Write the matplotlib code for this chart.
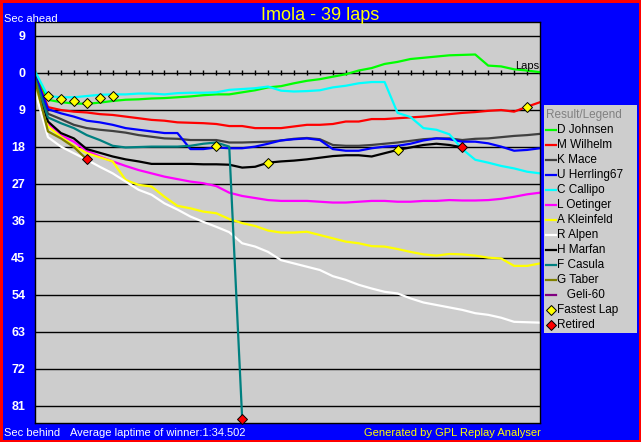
import matplotlib
matplotlib.use('Agg')
import matplotlib.pyplot as plt
from matplotlib.lines import Line2D
from matplotlib.patches import Rectangle

plt.rcParams['font.family'] = ['Liberation Sans', 'DejaVu Sans']

# ---------------- data ----------------
laps = list(range(0, 40))

drivers = ['D Johnsen', 'M Wilhelm', 'K Mace', 'U Herrling67', 'C Callipo', 'L Oetinger',
           'A Kleinfeld', 'R Alpen', 'H Marfan', 'F Casula', 'G Taber', '   Geli-60']
colors = ['#00FF00', '#FF0000', '#404040', '#0000FF', '#00FFFF', '#FF00FF',
          '#FFFF00', '#FFFFFF', '#000000', '#008080', '#808000', '#800080']

johnsen = [0.1, 6.6, 7.2, 7.5, 7.6, 7.3, 6.9, 6.6, 6.5, 6.3, 6.2, 6.0, 5.8, 5.5, 5.3, 5.3, 4.8, 4.3, 3.6, 3.3,
           2.6, 2.0, 1.6, 1.0, 0.4, -0.5, -1.1, -2.1, -2.6, -3.3, -3.6, -3.9, -4.2, -4.3, -4.4, -1.7, -1.5, -0.8, -0.5, -0.1]
wilhelm = [0.4, 8.4, 9.1, 9.5, 9.7, 10.1, 10.3, 10.7, 11.1, 11.5, 11.7, 12.1, 12.2, 12.3, 12.5, 13.0, 13.0, 13.5, 13.5, 13.5,
           13.1, 12.7, 12.7, 12.5, 11.9, 11.9, 11.3, 11.3, 11.1, 10.9, 10.7, 10.4, 10.1, 9.8, 9.6, 9.3, 9.1, 9.5, 8.3, 7.2]
mace = [1.1, 10.0, 11.3, 12.7, 13.5, 13.9, 14.2, 14.6, 15.2, 15.6, 16.0, 16.1, 16.4, 16.4, 16.4, 17.0, 17.0, 16.9, 16.8, 16.5,
        16.1, 15.9, 16.2, 17.6, 17.8, 17.8, 17.6, 17.3, 17.0, 16.6, 16.2, 16.0, 16.0, 16.4, 16.1, 16.0, 15.7, 15.4, 15.2, 14.9]
herrling = [0.6, 8.9, 9.9, 10.7, 11.7, 12.1, 12.7, 13.5, 13.9, 14.3, 14.7, 14.7, 18.6, 18.6, 18.2, 18.4, 18.4, 18.0, 17.3, 16.5,
            16.2, 16.0, 16.4, 18.6, 19.0, 19.0, 18.4, 18.0, 17.8, 17.3, 16.5, 16.0, 16.2, 16.8, 16.8, 17.2, 18.0, 19.0, 18.8, 18.4]
callipo = [-0.3, 5.7, 6.0, 6.0, 5.7, 5.4, 5.3, 5.3, 5.1, 5.1, 5.3, 5.0, 4.9, 4.9, 4.8, 4.2, 4.0, 3.8, 3.4, 4.4,
           4.6, 4.5, 4.3, 3.6, 3.2, 2.6, 2.3, 2.3, 9.8, 10.8, 13.5, 13.9, 15.0, 18.6, 21.2, 21.9, 22.7, 23.3, 24.1, 24.5]
oetinger = [3.0, 12.3, 15.2, 16.8, 19.0, 20.4, 21.6, 22.7, 23.7, 24.5, 25.3, 25.9, 26.5, 26.9, 27.6, 29.2, 30.0, 30.5, 31.0, 31.2,
            31.2, 31.2, 31.4, 31.6, 31.6, 31.4, 31.2, 31.2, 31.4, 31.4, 31.2, 31.2, 31.0, 31.1, 31.1, 31.0, 30.7, 30.2, 29.6, 29.2]
kleinfeld = [3.4, 13.1, 15.6, 17.8, 19.6, 20.6, 21.6, 26.1, 27.3, 27.7, 30.2, 32.4, 33.0, 33.8, 34.2, 35.6, 36.6, 37.3, 38.4, 38.9,
             38.9, 38.7, 39.5, 40.3, 41.1, 41.5, 42.2, 42.3, 42.9, 43.6, 44.2, 44.5, 44.1, 44.2, 44.5, 45.0, 45.2, 47.0, 47.0, 46.4]
alpen = [4.5, 15.7, 18.0, 19.6, 21.2, 22.9, 24.5, 26.5, 28.5, 29.7, 31.8, 33.3, 35.0, 36.3, 37.5, 38.8, 41.5, 42.3, 43.6, 45.6,
         46.4, 47.2, 48.0, 49.5, 50.4, 51.6, 52.5, 53.3, 53.7, 54.9, 55.9, 56.5, 57.1, 57.7, 58.5, 58.9, 59.6, 60.6, 60.7, 60.8]
marfan = [1.5, 11.9, 14.7, 16.0, 18.6, 19.5, 20.4, 21.1, 21.6, 22.2, 22.2, 22.2, 22.2, 22.3, 22.3, 22.4, 23.1, 22.9, 21.9, 21.6,
          21.4, 21.1, 20.7, 20.3, 20.1, 20.1, 20.4, 19.6, 18.8, 18.2, 17.6, 17.3, 17.6, 18.2]
casula = [1.3, 10.9, 12.3, 13.5, 15.2, 16.4, 17.8, 18.2, 18.1, 18.0, 18.0, 18.0, 17.8, 17.3, 17.0, 18.0, 84.2]
taber = [1.8, 14.3, 16.0, 18.1, 21.1]
geli = []

series = [johnsen, wilhelm, mace, herrling, callipo, oetinger, kleinfeld, alpen, marfan, casula, taber, geli]

fastest_laps = [1, 2, 3, 4, 5, 6, 14, 18, 28, 38]
fastest_vals = [5.8, 6.5, 6.8, 7.5, 6.3, 5.7, 17.9, 21.9, 18.8, 8.3]
retired_laps = [4, 16, 33]
retired_vals = [21.1, 84.2, 18.2]

ytick_vals = [-9, 0, 9, 18, 27, 36, 45, 54, 63, 72, 81]
ytick_labels = ['9', '0', '9', '18', '27', '36', '45', '54', '63', '72', '81']

# ---------------- figure ----------------
W, H = 641, 442
fig = plt.figure(figsize=(W / 100, H / 100), dpi=100, facecolor='#0000FF')


def fx(px):
    return px / W


def fy(py):
    return 1 - py / H


ax = fig.add_axes([fx(35), fy(423), (540 - 35) / W, (423 - 22) / H])
ax.set_facecolor('#CDCDCD')
ax.set_xlim(0, 39)
ax.set_ylim(85.2, -12.3)
ax.set_xticks([])
ax.set_yticks(ytick_vals)
ax.set_yticklabels(ytick_labels, fontweight='bold')
ax.tick_params(axis='y', length=0, pad=7, labelcolor='white', labelsize=9)
for sp in ax.spines.values():
    sp.set_color('black')
    sp.set_linewidth(1)

for v in ytick_vals:
    ax.axhline(v, color='black', lw=1, zorder=1)
ax.vlines(laps, -0.6, 0.6, color='black', lw=1, zorder=1)

for name, col, data in zip(drivers, colors, series):
    if data:
        ax.plot(laps[:len(data)], data, color=col, lw=1.6, zorder=2)

ax.plot(fastest_laps, fastest_vals, linestyle='none', marker='D', ms=5,
        mfc='#FFFF00', mec='black', mew=0.7, zorder=5, clip_on=False)
ax.plot(retired_laps, retired_vals, linestyle='none', marker='D', ms=5,
        mfc='#FF0000', mec='black', mew=0.7, zorder=5, clip_on=False)

# ---------------- texts ----------------
fig.text(fx(4), fy(19), 'Sec ahead', color='white', fontsize=8, ha='left', va='center')
fig.text(fx(320), fy(15), 'Imola - 39 laps', color='#FFFF00', fontsize=13, ha='center', va='center')
fig.text(fx(539), fy(66), 'Laps', color='black', fontsize=8, ha='right', va='center')
fig.text(fx(4), fy(433), 'Sec behind', color='white', fontsize=8, ha='left', va='center')
fig.text(fx(70), fy(433), 'Average laptime of winner:1:34.502', color='white', fontsize=8, ha='left', va='center')
fig.text(fx(541), fy(433), 'Generated by GPL Replay Analyser', color='#FFFF00', fontsize=8, ha='right', va='center')

# ---------------- legend ----------------
fig.patches.append(Rectangle((fx(544), fy(333)), (637 - 544) / W, (333 - 105) / H,
                             transform=fig.transFigure, facecolor='#CDCDCD', edgecolor='none'))
fig.text(fx(546), fy(115), 'Result/Legend', color='#808080', fontsize=8.5, ha='left', va='center')
row = 130
for name, col in zip(drivers, colors):
    fig.lines.append(Line2D([fx(546), fx(556)], [fy(row), fy(row)], color=col, lw=1.6,
                            transform=fig.transFigure))
    fig.text(fx(557), fy(row), name, color='black', fontsize=8.5, ha='left', va='center')
    row += 15
fig.lines.append(Line2D([fx(551)], [fy(row)], marker='D', ms=5, mfc='#FFFF00', mec='black', mew=0.7,
                        transform=fig.transFigure))
fig.text(fx(557), fy(row), 'Fastest Lap', color='black', fontsize=8.5, ha='left', va='center')
row += 15
fig.lines.append(Line2D([fx(551)], [fy(row)], marker='D', ms=5, mfc='#FF0000', mec='black', mew=0.7,
                        transform=fig.transFigure))
fig.text(fx(557), fy(row), 'Retired', color='black', fontsize=8.5, ha='left', va='center')

# red outer border
fig.patches.append(Rectangle((0, 0), 1, 1, transform=fig.transFigure, fill=False,
                             edgecolor='#FF0000', lw=3.6))

fig.savefig('out.png', dpi=100, facecolor=fig.get_facecolor())
